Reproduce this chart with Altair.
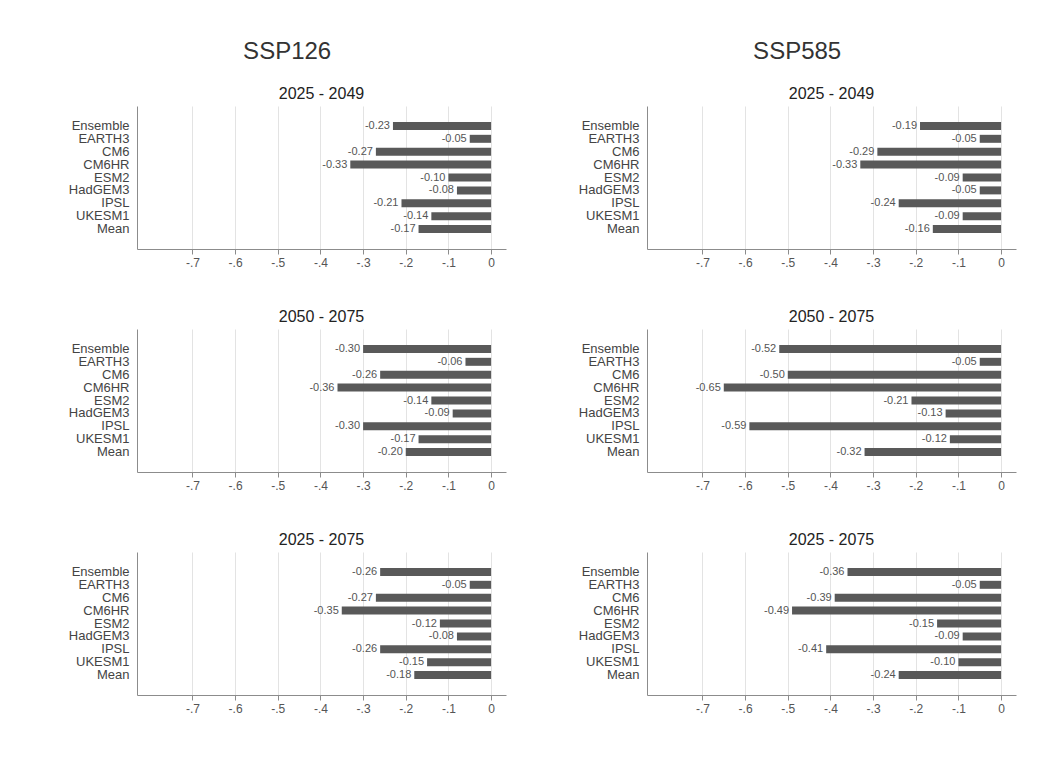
import altair as alt
import pandas as pd

models = ["Ensemble", "EARTH3", "CM6", "CM6HR", "ESM2", "HadGEM3", "IPSL", "UKESM1", "Mean"]
periods = ["2025 - 2049", "2050 - 2075", "2025 - 2075"]
scenarios = ["SSP126", "SSP585"]

ssp126_2025_2049 = [-0.23, -0.05, -0.27, -0.33, -0.10, -0.08, -0.21, -0.14, -0.17]
ssp126_2050_2075 = [-0.30, -0.06, -0.26, -0.36, -0.14, -0.09, -0.30, -0.17, -0.20]
ssp126_2025_2075 = [-0.26, -0.05, -0.27, -0.35, -0.12, -0.08, -0.26, -0.15, -0.18]

ssp585_2025_2049 = [-0.19, -0.05, -0.29, -0.33, -0.09, -0.05, -0.24, -0.09, -0.16]
ssp585_2050_2075 = [-0.52, -0.05, -0.50, -0.65, -0.21, -0.13, -0.59, -0.12, -0.32]
ssp585_2025_2075 = [-0.36, -0.05, -0.39, -0.49, -0.15, -0.09, -0.41, -0.10, -0.24]

x_ticks = [-0.7, -0.6, -0.5, -0.4, -0.3, -0.2, -0.1, 0.0]

series = {
    "SSP126": [ssp126_2025_2049, ssp126_2050_2075, ssp126_2025_2075],
    "SSP585": [ssp585_2025_2049, ssp585_2050_2075, ssp585_2025_2075],
}

FONT = "Liberation Sans"
BAR = "#595959"
# blank slots above and below the categories give the empty margins of the plot region
y_domain = [" "] + models + ["  "]


def panel(period, values):
    df = pd.DataFrame({"model": models, "value": values})
    df["label"] = [f"{v:.2f}" for v in values]
    base = alt.Chart(df)
    x = alt.X(
        "value:Q",
        scale=alt.Scale(domain=[-0.83, 0.035], nice=False, zero=False),
        axis=alt.Axis(
            values=x_ticks,
            labelExpr="datum.value == 0 ? '0' : '-' + replace(format(abs(datum.value), '.1f'), '0.', '.')",
            title=None,
            grid=True,
            gridColor="#e3e3e3",
            domainColor="#8c8c8c",
            tickColor="#8c8c8c",
            tickSize=5,
            labelFontSize=12,
            labelColor="#555555",
            labelFont=FONT,
            labelPadding=3,
        ),
    )
    y = alt.Y(
        "model:N",
        scale=alt.Scale(domain=y_domain, paddingInner=0.38, paddingOuter=0.235),
        axis=alt.Axis(
            title=None,
            ticks=False,
            grid=False,
            domainColor="#8c8c8c",
            labelFontSize=13,
            labelColor="#444444",
            labelFont=FONT,
            labelPadding=8,
        ),
    )
    bars = base.mark_bar(color=BAR).encode(x=x, x2=alt.datum(0), y=y)
    text = base.mark_text(
        align="right", baseline="middle", dx=-3, fontSize=11, color="#555555", font=FONT
    ).encode(x="value:Q", y="model:N", text="label:N")
    return alt.layer(bars, text).properties(
        width=369,
        height=143,
        title=alt.TitleParams(period, fontSize=16, font=FONT, fontWeight="normal", color="#222222", offset=4),
    )


columns = []
for sc in scenarios:
    col = alt.vconcat(
        *[panel(p, v) for p, v in zip(periods, series[sc])],
        spacing=41,
        title=alt.TitleParams(sc, fontSize=24, font=FONT, fontWeight="normal", color="#333333", anchor="middle", offset=22),
    )
    columns.append(col)

chart = alt.hconcat(
    *columns, spacing=72, padding={"left": 68, "top": 40, "right": 10, "bottom": 10}
).configure(background="white").configure_view(strokeWidth=0, stroke=None)

chart.save("out.html", embed_options={"renderer": "svg", "actions": False})
